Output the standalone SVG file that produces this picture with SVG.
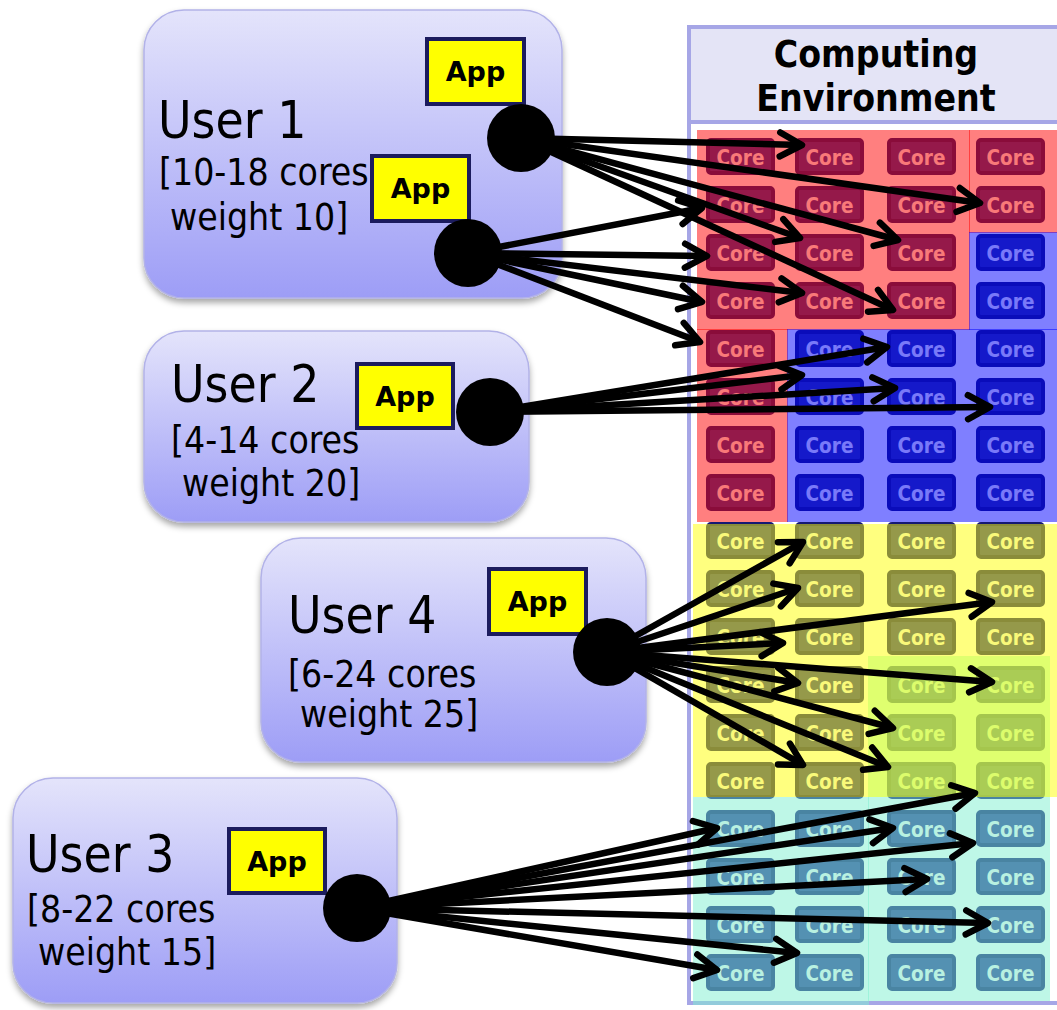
<svg xmlns="http://www.w3.org/2000/svg" xmlns:xlink="http://www.w3.org/1999/xlink" width="1057" height="1010" viewBox="0 0 1057 1010">
  <style>
    .user-box { fill: url(#userFill); stroke: #b2b2e8; stroke-width: 1.5; filter: url(#shadow); }
    .user-name { font-family: "DejaVu Sans Condensed", "DejaVu Sans", sans-serif; font-stretch: condensed; font-size: 51px; fill: #000; }
    .limits { font-family: "DejaVu Sans Condensed", "DejaVu Sans", sans-serif; font-stretch: condensed; font-size: 37px; fill: #000; }
    .app-box { fill: #ffff00; stroke: #1c1c5e; stroke-width: 4; }
    .app-label { font-family: "DejaVu Sans", sans-serif; font-weight: bold; font-size: 27px; fill: #000; text-anchor: middle; }
    .dot { fill: #000; }
    .env-frame { fill: #fff; stroke: #a6a6e6; stroke-width: 4; }
    .env-header { fill: #e4e4f6; stroke: #a6a6e6; stroke-width: 4; }
    .title { font-family: "DejaVu Sans Condensed", "DejaVu Sans", sans-serif; font-stretch: condensed; font-weight: bold; font-size: 37px; fill: #000; text-anchor: middle; }
    .core-box { fill: #2b3294; stroke: #151874; stroke-width: 4; }
    .core-label { font-family: "DejaVu Sans Condensed", "DejaVu Sans", sans-serif; font-stretch: condensed; font-weight: bold; font-size: 20.5px; fill: #f2f2f2; text-anchor: middle; }
    .share rect { fill-opacity: 0.5; }
    .arrow { fill: none; stroke: #000; stroke-width: 6.5; marker-end: url(#head); }
  </style>
  <defs>
    <linearGradient id="userFill" x1="0" y1="0" x2="0" y2="1">
      <stop offset="0" stop-color="#e4e4fb"/>
      <stop offset="1" stop-color="#9d9df6"/>
    </linearGradient>
    <filter id="shadow" x="-10%" y="-10%" width="120%" height="130%">
      <feDropShadow dx="0" dy="4" stdDeviation="3" flood-color="#000" flood-opacity="0.35"/>
    </filter>
    <marker id="head" markerUnits="userSpaceOnUse" viewBox="-30 -18 36 36" refX="0" refY="0" markerWidth="36" markerHeight="36" orient="auto">
      <path d="M-22,-12 L0,0 L-22,12" fill="none" stroke="#000" stroke-width="6.5" stroke-linecap="round" stroke-linejoin="round"/>
    </marker>
    <g id="core">
      <rect x="2" y="2" width="65" height="33" rx="3" class="core-box"/>
      <text x="34.5" y="26.5" class="core-label">Core</text>
    </g>
  </defs>

  <!-- computing environment: frame, header, core grid and allocation shares -->
  <g id="computing-environment">
    <rect class="env-frame" x="689" y="27" width="420" height="976"/>
    <rect class="env-header" x="689" y="27" width="420" height="95"/>
    <text class="title" x="876" y="67">Computing</text>
    <text class="title" x="876" y="111">Environment</text>

    <g id="cores">
      <use xlink:href="#core" href="#core" x="706" y="138"/><use xlink:href="#core" href="#core" x="795" y="138"/><use xlink:href="#core" href="#core" x="887" y="138"/><use xlink:href="#core" href="#core" x="976" y="138"/>
      <use xlink:href="#core" href="#core" x="706" y="186"/><use xlink:href="#core" href="#core" x="795" y="186"/><use xlink:href="#core" href="#core" x="887" y="186"/><use xlink:href="#core" href="#core" x="976" y="186"/>
      <use xlink:href="#core" href="#core" x="706" y="234"/><use xlink:href="#core" href="#core" x="795" y="234"/><use xlink:href="#core" href="#core" x="887" y="234"/><use xlink:href="#core" href="#core" x="976" y="234"/>
      <use xlink:href="#core" href="#core" x="706" y="282"/><use xlink:href="#core" href="#core" x="795" y="282"/><use xlink:href="#core" href="#core" x="887" y="282"/><use xlink:href="#core" href="#core" x="976" y="282"/>
      <use xlink:href="#core" href="#core" x="706" y="330"/><use xlink:href="#core" href="#core" x="795" y="330"/><use xlink:href="#core" href="#core" x="887" y="330"/><use xlink:href="#core" href="#core" x="976" y="330"/>
      <use xlink:href="#core" href="#core" x="706" y="378"/><use xlink:href="#core" href="#core" x="795" y="378"/><use xlink:href="#core" href="#core" x="887" y="378"/><use xlink:href="#core" href="#core" x="976" y="378"/>
      <use xlink:href="#core" href="#core" x="706" y="426"/><use xlink:href="#core" href="#core" x="795" y="426"/><use xlink:href="#core" href="#core" x="887" y="426"/><use xlink:href="#core" href="#core" x="976" y="426"/>
      <use xlink:href="#core" href="#core" x="706" y="474"/><use xlink:href="#core" href="#core" x="795" y="474"/><use xlink:href="#core" href="#core" x="887" y="474"/><use xlink:href="#core" href="#core" x="976" y="474"/>
      <use xlink:href="#core" href="#core" x="706" y="522"/><use xlink:href="#core" href="#core" x="795" y="522"/><use xlink:href="#core" href="#core" x="887" y="522"/><use xlink:href="#core" href="#core" x="976" y="522"/>
      <use xlink:href="#core" href="#core" x="706" y="570"/><use xlink:href="#core" href="#core" x="795" y="570"/><use xlink:href="#core" href="#core" x="887" y="570"/><use xlink:href="#core" href="#core" x="976" y="570"/>
      <use xlink:href="#core" href="#core" x="706" y="618"/><use xlink:href="#core" href="#core" x="795" y="618"/><use xlink:href="#core" href="#core" x="887" y="618"/><use xlink:href="#core" href="#core" x="976" y="618"/>
      <use xlink:href="#core" href="#core" x="706" y="666"/><use xlink:href="#core" href="#core" x="795" y="666"/><use xlink:href="#core" href="#core" x="887" y="666"/><use xlink:href="#core" href="#core" x="976" y="666"/>
      <use xlink:href="#core" href="#core" x="706" y="714"/><use xlink:href="#core" href="#core" x="795" y="714"/><use xlink:href="#core" href="#core" x="887" y="714"/><use xlink:href="#core" href="#core" x="976" y="714"/>
      <use xlink:href="#core" href="#core" x="706" y="762"/><use xlink:href="#core" href="#core" x="795" y="762"/><use xlink:href="#core" href="#core" x="887" y="762"/><use xlink:href="#core" href="#core" x="976" y="762"/>
      <use xlink:href="#core" href="#core" x="706" y="810"/><use xlink:href="#core" href="#core" x="795" y="810"/><use xlink:href="#core" href="#core" x="887" y="810"/><use xlink:href="#core" href="#core" x="976" y="810"/>
      <use xlink:href="#core" href="#core" x="706" y="858"/><use xlink:href="#core" href="#core" x="795" y="858"/><use xlink:href="#core" href="#core" x="887" y="858"/><use xlink:href="#core" href="#core" x="976" y="858"/>
      <use xlink:href="#core" href="#core" x="706" y="906"/><use xlink:href="#core" href="#core" x="795" y="906"/><use xlink:href="#core" href="#core" x="887" y="906"/><use xlink:href="#core" href="#core" x="976" y="906"/>
      <use xlink:href="#core" href="#core" x="706" y="954"/><use xlink:href="#core" href="#core" x="795" y="954"/><use xlink:href="#core" href="#core" x="887" y="954"/><use xlink:href="#core" href="#core" x="976" y="954"/>
    </g>

    <!-- translucent shares laid over the grid -->
    <g id="shares" class="share">
      <rect x="697" y="130" width="273" height="200" fill="#ff0000"/>
      <rect x="969" y="130" width="88" height="103" fill="#ff0000"/>
      <rect x="697" y="329" width="91" height="193" fill="#ff0000"/>
      <rect x="787" y="329" width="270" height="193" fill="#0000ff"/>
      <rect x="969" y="232" width="88" height="98" fill="#0000ff"/>
      <rect x="693" y="524" width="364" height="273" fill="#ffff00"/>
      <rect x="868" y="656" width="182" height="141" fill="#bfff60"/>
      <rect x="693" y="797" width="176" height="208" fill="#7df0d0"/>
      <rect x="868" y="797" width="182" height="204" fill="#7df0d0"/>
    </g>
  </g>

  <!-- users -->
  <g id="user-1">
    <rect class="user-box" x="144" y="10" width="418" height="288" rx="40"/>
    <text class="user-name" x="158" y="138">User 1</text>
    <text class="limits" x="159" y="185">[10-18 cores</text>
    <text class="limits" x="170" y="230">weight 10]</text>
    <rect class="app-box" x="427" y="39" width="97" height="65"/>
    <text class="app-label" x="475.5" y="81">App</text>
    <rect class="app-box" x="372" y="156" width="97" height="65"/>
    <text class="app-label" x="420.5" y="198">App</text>
  </g>

  <g id="user-2">
    <rect class="user-box" x="144" y="331" width="385" height="191" rx="40"/>
    <text class="user-name" x="171" y="402">User 2</text>
    <text class="limits" x="171" y="453">[4-14 cores</text>
    <text class="limits" x="182" y="496">weight 20]</text>
    <rect class="app-box" x="357" y="364" width="96" height="64"/>
    <text class="app-label" x="405" y="406">App</text>
  </g>

  <g id="user-4">
    <rect class="user-box" x="261" y="538" width="385" height="224" rx="40"/>
    <text class="user-name" x="288" y="633">User 4</text>
    <text class="limits" x="288" y="687">[6-24 cores</text>
    <text class="limits" x="300" y="727">weight 25]</text>
    <rect class="app-box" x="489" y="569" width="97" height="65"/>
    <text class="app-label" x="537.5" y="611">App</text>
  </g>

  <g id="user-3">
    <rect class="user-box" x="13" y="778" width="384" height="225" rx="40"/>
    <text class="user-name" x="26" y="872">User 3</text>
    <text class="limits" x="27" y="922">[8-22 cores</text>
    <text class="limits" x="38" y="965">weight 15]</text>
    <rect class="app-box" x="229" y="829" width="96" height="64"/>
    <text class="app-label" x="277" y="871">App</text>
  </g>

  <!-- core assignments, one arrow per core -->
  <g id="connectors">
    <line class="arrow" x1="521" y1="138" x2="802" y2="145"/>
    <line class="arrow" x1="521" y1="138" x2="980" y2="203"/>
    <line class="arrow" x1="521" y1="138" x2="800" y2="238"/>
    <line class="arrow" x1="521" y1="138" x2="898" y2="240"/>
    <line class="arrow" x1="521" y1="138" x2="893" y2="310"/>

    <line class="arrow" x1="468" y1="253" x2="702" y2="208"/>
    <line class="arrow" x1="468" y1="253" x2="707" y2="256"/>
    <line class="arrow" x1="468" y1="253" x2="802" y2="293"/>
    <line class="arrow" x1="468" y1="253" x2="702" y2="302"/>
    <line class="arrow" x1="468" y1="253" x2="700" y2="342"/>

    <line class="arrow" x1="490" y1="412" x2="887" y2="347"/>
    <line class="arrow" x1="490" y1="412" x2="802" y2="375"/>
    <line class="arrow" x1="490" y1="412" x2="895" y2="388"/>
    <line class="arrow" x1="490" y1="412" x2="990" y2="407"/>

    <line class="arrow" x1="607" y1="652" x2="803" y2="542"/>
    <line class="arrow" x1="607" y1="652" x2="798" y2="588"/>
    <line class="arrow" x1="607" y1="652" x2="992" y2="602"/>
    <line class="arrow" x1="607" y1="652" x2="783" y2="643"/>
    <line class="arrow" x1="607" y1="652" x2="798" y2="683"/>
    <line class="arrow" x1="607" y1="652" x2="992" y2="682"/>
    <line class="arrow" x1="607" y1="652" x2="893" y2="728"/>
    <line class="arrow" x1="607" y1="652" x2="803" y2="765"/>
    <line class="arrow" x1="607" y1="652" x2="888" y2="767"/>

    <line class="arrow" x1="357" y1="908" x2="717" y2="828"/>
    <line class="arrow" x1="357" y1="908" x2="893" y2="828"/>
    <line class="arrow" x1="357" y1="908" x2="975" y2="793"/>
    <line class="arrow" x1="357" y1="908" x2="973" y2="843"/>
    <line class="arrow" x1="357" y1="908" x2="927" y2="879"/>
    <line class="arrow" x1="357" y1="908" x2="988" y2="923"/>
    <line class="arrow" x1="357" y1="908" x2="797" y2="953"/>
    <line class="arrow" x1="357" y1="908" x2="717" y2="970"/>
  </g>

  <!-- application endpoints -->
  <g id="endpoints">
    <circle class="dot" cx="521" cy="138" r="34"/>
    <circle class="dot" cx="468" cy="253" r="34"/>
    <circle class="dot" cx="490" cy="412" r="34"/>
    <circle class="dot" cx="607" cy="652" r="34"/>
    <circle class="dot" cx="357" cy="908" r="34"/>
  </g>
</svg>
